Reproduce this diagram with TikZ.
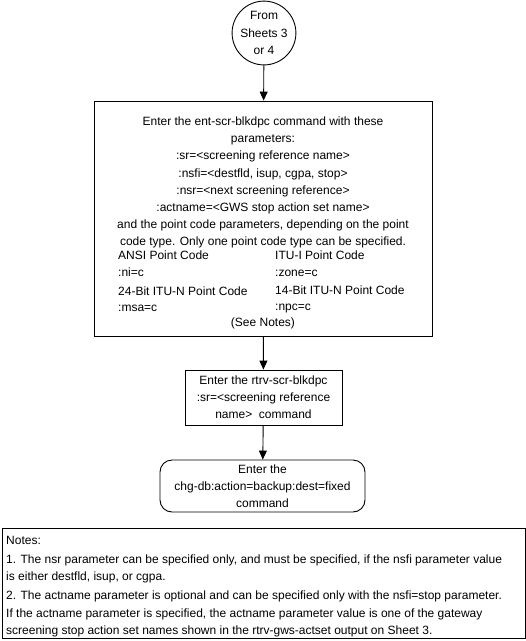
\documentclass[tikz,border=0pt]{standalone}
\usepackage{fontspec}
\setmainfont{Liberation Sans}
\usetikzlibrary{arrows.meta}

\begin{document}
\begin{tikzpicture}[x=1pt, y=-1pt,
    every node/.style={font=\fontsize{12}{17.2}\selectfont, inner sep=0pt},
    stepbox/.style={draw, line width=0.9pt, rectangle},
    flow/.style={-{Triangle[width=8pt, length=9pt]}, line width=0.9pt}]
\useasboundingbox (0, 0) rectangle (526, 641);

% connector and boxes
\node [draw, circle, line width=0.9pt, minimum size=62pt, align=center] (start) at (264, 33) {From\\Sheets 3\\or 4};

\node [stepbox, minimum width=338pt, minimum height=235pt] (entbox) at (263, 218.5) {};
\node [align=center] (enttext) at (263, 182.5) {Enter the ent-scr-blkdpc command with these\\parameters:\\:sr=<screening reference name>\\:nsfi=<destfld, isup, cgpa, stop>\\:nsr=<next screening reference>\\:actname=<GWS stop action set name>\\and the point code parameters, depending on the point\\code type. Only one point code type can be specified.};
\node [anchor=west, align=left, font=\fontsize{12}{16.5}\selectfont] (ansi) at (118, 263.5) {ANSI Point Code\\:ni=c};
\node [anchor=west, align=left, font=\fontsize{12}{16.5}\selectfont] (itui) at (275, 263.5) {ITU-I Point Code\\:zone=c};
\node [anchor=west, align=left, font=\fontsize{12}{16}\selectfont] (itun24) at (118, 299.5) {24-Bit ITU-N Point Code\\:msa=c};
\node [anchor=west, align=left, font=\fontsize{12}{16}\selectfont] (itun14) at (275, 299.5) {14-Bit ITU-N Point Code\\:npc=c};
\node (seenotes) at (263, 323) {(See Notes)};

\node [stepbox, minimum width=157pt, minimum height=55pt, align=center] (rtrvbox) at (263.5, 397.5) {Enter the rtrv-scr-blkdpc\\:sr=<screening reference\\name>\ \ command};

\node [draw, rounded corners=12pt, line width=0.9pt, minimum width=205pt, minimum height=52pt, align=center] (chgdb) at (262.5, 486) {Enter the\\chg-db:action=backup:dest=fixed\\command};

\draw [flow] (start) -- (entbox);
\draw [flow] (entbox) -- (rtrvbox);
\draw [flow] (rtrvbox) -- (chgdb);

% notes
\node [stepbox, minimum width=523pt, minimum height=110pt] (notesbox) at (263.5, 583) {};
\node [anchor=west] (notestitle) at (6, 540) {Notes:};
\node [anchor=west, align=left] (note1) at (6, 568.5) {1. The nsr parameter can be specified only, and must be specified, if the nsfi parameter value\\is either destfld, isup, or cgpa.};
\node [anchor=west, align=left] (note2) at (6, 614) {2. The actname parameter is optional and can be specified only with the nsfi=stop parameter.\\If the actname parameter is specified, the actname parameter value is one of the gateway\\screening stop action set names shown in the rtrv-gws-actset output on Sheet 3.};
\end{tikzpicture}
\end{document}
